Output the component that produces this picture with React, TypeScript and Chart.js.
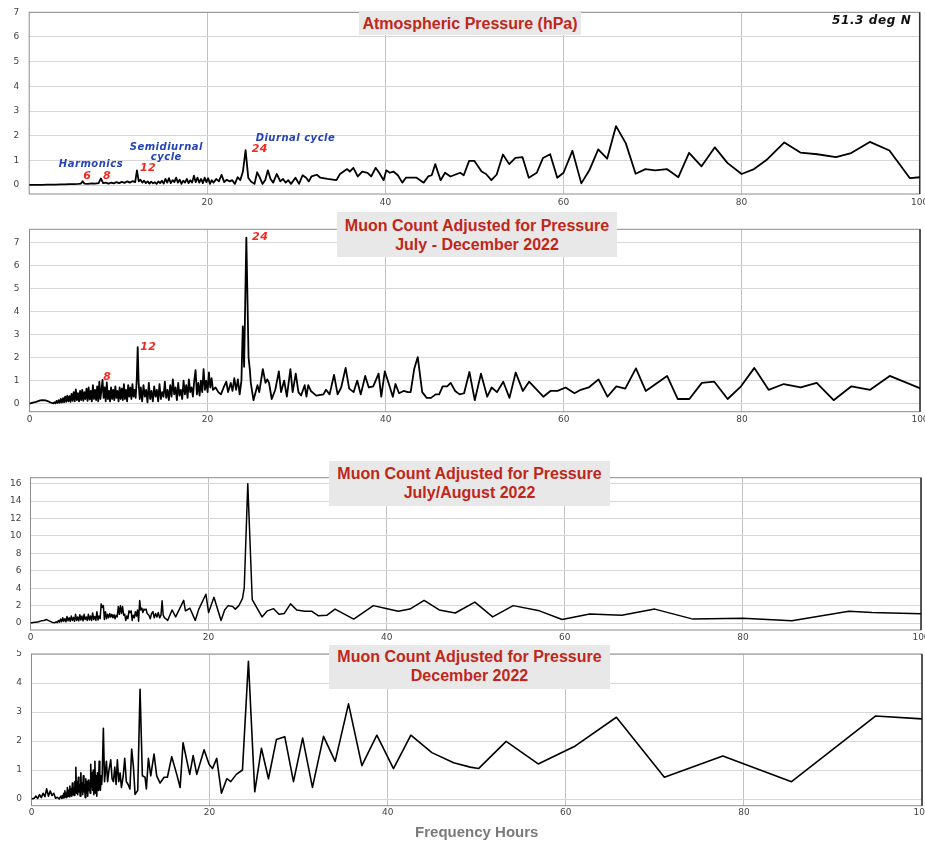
import React, { useEffect, useRef } from 'react';
import { Chart, registerables } from 'chart.js';
Chart.register(...registerables);

type Pt = [number, number];

// ---------- DATA (period in hours, amplitude) ----------
const pressureSpectrum: Pt[] = [
  [0,0.01],[0.5,0.01],[1,0.01],[1.5,0.01],[2,0.02],[2.5,0.02],[3,0.02],[3.5,0.03],[4,0.03],[4.5,0.04],[5,0.04],[5.5,0.05],[5.8,0.06],[6,0.16],[6.2,0.06],[6.6,0.05],[7,0.07],[7.4,0.06],[7.8,0.08],[8.05,0.27],[8.3,0.08],[8.6,0.1],[8.9,0.06],[9.2,0.1],[9.5,0.07],[9.8,0.12],[10.1,0.08],[10.4,0.13],[10.7,0.09],[11,0.15],[11.3,0.1],[11.6,0.16],[11.9,0.12],[12.1,0.6],[12.3,0.15],[12.5,0.22],[12.7,0.1],[12.9,0.18],[13.1,0.08],[13.3,0.15],[13.5,0.06],[13.7,0.14],[13.9,0.07],[14.1,0.12],[14.3,0.05],[14.5,0.15],[14.7,0.08],[14.9,0.18],[15.1,0.06],[15.3,0.25],[15.5,0.1],[15.7,0.28],[15.9,0.08],[16.1,0.2],[16.3,0.12],[16.5,0.3],[16.7,0.1],[16.9,0.22],[17.1,0.05],[17.3,0.18],[17.5,0.1],[17.7,0.25],[17.9,0.08],[18.1,0.2],[18.3,0.1],[18.5,0.38],[18.7,0.12],[18.9,0.3],[19.1,0.1],[19.3,0.25],[19.5,0.08],[19.7,0.3],[19.9,0.12],[20.1,0.28],[20.3,0.05],[20.5,0.2],[20.7,0.1],[21,0.25],[21.3,0.15],[21.6,0.42],[21.9,0.12],[22.2,0.22],[22.5,0.15],[22.8,0.2],[23.1,0.05],[23.4,0.32],[23.7,0.2],[24,0.55],[24.3,1.42],[24.6,0.3],[24.9,0.15],[25.3,0.05],[25.6,0.52],[25.9,0.3],[26.2,0.05],[26.5,0.2],[26.8,0.6],[27.1,0.25],[27.4,0.1],[27.8,0.45],[28.2,0.15],[28.5,0.25],[28.8,0.1],[29.1,0.2],[29.4,0.05],[29.9,0.3],[30.3,0.05],[30.7,0.4],[31.1,0.3],[31.4,0.15],[31.7,0.35],[32.3,0.42],[32.7,0.3],[33.5,0.25],[34.5,0.2],[34.9,0.45],[35.7,0.65],[36.0,0.55],[36.4,0.7],[36.9,0.35],[37.4,0.55],[38.0,0.5],[38.4,0.35],[38.9,0.7],[39.3,0.5],[39.8,0.2],[40.1,0.6],[40.5,0.5],[40.9,0.55],[41.4,0.4],[41.9,0.1],[42.3,0.3],[42.9,0.3],[43.5,0.3],[44.3,0.1],[44.8,0.35],[45.2,0.4],[45.6,0.85],[46.2,0.2],[46.7,0.5],[47.3,0.35],[48.4,0.5],[48.8,0.4],[49.4,0.98],[50.0,0.98],[50.8,0.55],[51.3,0.45],[51.9,0.2],[52.5,0.43],[53.2,1.24],[53.9,0.85],[54.6,1.1],[55.4,1.13],[56.1,0.3],[57.0,0.5],[57.7,1.1],[58.5,1.25],[59.3,0.3],[60.0,0.5],[61.0,1.39],[62.0,0.07],[62.9,0.6],[63.9,1.45],[64.9,1.07],[65.9,2.39],[67.0,1.69],[68.1,0.46],[69.2,0.65],[70.3,0.6],[71.6,0.65],[72.9,0.32],[74.1,1.31],[75.5,0.76],[77.0,1.53],[78.4,0.9],[80.0,0.45],[81.4,0.65],[82.9,1.05],[84.8,1.73],[86.6,1.32],[88.5,1.25],[90.6,1.13],[92.3,1.3],[94.4,1.75],[96.6,1.4],[98.9,0.28],[100.1,0.32]
];

const julDecSpectrum: Pt[] = [
  [0,0],[0.3,0.03],[0.6,0.06],[0.9,0.1],[1.2,0.14],[1.5,0.15],[1.8,0.14],[2.1,0.1],[2.4,0.04],[2.7,0.01],
  [2.8,0.06],[2.92,0.01],[3.04,0.12],[3.16,0.03],[3.28,0.15],[3.4,0.04],[3.52,0.2],[3.64,0.05],[3.76,0.24],[3.88,0.06],[4.0,0.3],[4.12,0.08],[4.24,0.35],[4.36,0.1],[4.48,0.32],[4.6,0.08],[4.72,0.42],[4.84,0.12],[4.96,0.5],[5.08,0.1],[5.2,0.62],[5.32,0.15],[5.44,0.45],[5.56,0.1],[5.68,0.55],[5.8,0.15],[5.92,0.6],[6.04,0.12],[6.16,0.5],[6.28,0.2],[6.4,0.65],[6.52,0.12],[6.64,0.7],[6.76,0.18],[6.88,0.55],[7.0,0.1],[7.12,0.8],[7.24,0.2],[7.36,0.6],[7.48,0.15],[7.6,0.75],[7.72,0.1],[7.84,0.95],[7.96,0.2],[8.08,0.6],[8.2,1.03],[8.32,0.25],[8.44,0.7],[8.56,0.1],[8.68,0.92],[8.8,0.2],[8.92,0.55],[9.04,0.1],[9.16,0.7],[9.28,0.2],[9.4,0.6],[9.52,0.15],[9.64,0.75],[9.76,0.25],[9.88,0.55],[10.0,0.1],[10.12,0.7],[10.24,0.2],[10.36,0.65],[10.48,0.15],[10.6,0.85],[10.72,0.2],[10.84,0.6],[10.96,0.1],[11.08,0.8],[11.2,0.3],[11.32,0.7],[11.44,0.2],[11.56,0.85],[11.68,0.3],[11.8,0.6],[11.92,0.25],[12.04,1.0],[12.15,2.45],[12.26,0.9],[12.38,0.2],[12.5,0.7],
  [12.65,0.1],[12.8,0.8],[12.95,0.3],[13.1,0.6],[13.25,0.05],[13.4,0.9],[13.55,0.2],[13.7,0.55],[13.85,0.1],[14.0,0.75],[14.15,0.3],[14.3,0.6],[14.45,0.1],[14.6,0.85],[14.75,0.2],[14.9,0.5],[15.05,0.3],[15.2,0.95],[15.35,0.25],[15.5,0.6],[15.65,0.15],[15.8,0.8],[15.95,0.3],[16.1,1.05],[16.25,0.4],[16.4,0.7],[16.55,0.15],[16.7,0.9],[16.85,0.35],[17.0,0.6],[17.15,0.2],[17.3,1.0],[17.45,0.4],[17.6,0.8],[17.75,0.25],[17.9,1.05],[18.05,0.5],[18.2,0.7],[18.35,0.3],[18.5,1.0],[18.65,1.45],[18.8,0.4],[18.95,0.9],[19.1,0.35],[19.25,1.0],[19.4,0.5],[19.55,1.5],[19.7,0.6],[19.85,1.0],[20.0,0.5],[20.15,1.35],[20.3,0.7],[20.45,1.1],
  [20.6,0.6],[20.9,0.7],[21.2,0.5],[21.5,0.4],[21.8,0.7],[22.1,0.95],[22.3,0.5],[22.6,0.9],[22.8,0.55],[23.0,1.1],[23.2,0.6],[23.4,1.05],[23.6,0.4],[23.8,1.0],[23.95,3.35],[24.1,1.6],[24.35,7.2],[24.6,2.0],[24.75,1.45],[24.85,0.9],[25.15,0.15],[25.6,0.8],[25.8,0.5],[26.2,1.5],[26.5,0.9],[26.7,1.05],[26.9,0.9],[27.2,0.2],[27.6,0.6],[28.0,1.4],[28.25,0.5],[28.6,1.0],[28.9,0.3],[29.3,1.5],[29.55,0.5],[29.9,1.3],[30.2,0.5],[30.5,0.35],[30.9,0.8],[31.1,0.3],[31.3,0.8],[31.6,0.55],[32.2,0.35],[33.0,0.4],[33.3,0.6],[33.7,0.4],[34.2,1.25],[34.6,0.4],[35.0,0.7],[35.5,1.55],[35.9,0.65],[36.4,0.5],[36.8,1.0],[37.2,0.4],[37.7,1.2],[38.1,0.7],[38.6,0.75],[39.2,1.3],[39.5,0.3],[39.9,1.4],[40.4,0.8],[40.8,0.3],[41.1,0.85],[41.5,0.45],[42.0,0.55],[42.5,0.5],[42.8,0.5],[43.2,1.5],[43.6,2.02],[44.1,0.5],[44.6,0.25],[45.1,0.25],[45.6,0.4],[46.0,0.4],[46.4,0.75],[46.9,0.75],[47.3,0.9],[47.8,0.55],[48.3,0.4],[48.8,0.45],[49.4,1.37],[50.0,0.15],[50.7,1.3],[51.4,0.3],[51.9,0.7],[52.5,0.5],[53.2,0.95],[53.9,0.25],[54.6,1.35],[55.4,0.55],[56.1,0.95],[57.7,0.3],[58.5,0.55],[59.3,0.55],[60.2,0.7],[61.2,0.45],[61.9,0.6],[62.8,0.7],[63.9,1.05],[64.9,0.3],[65.9,0.75],[66.9,0.65],[68.1,1.53],[69.2,0.55],[71.6,1.2],[72.8,0.2],[74.1,0.2],[75.5,0.9],[76.9,0.95],[78.4,0.2],[79.9,0.75],[81.4,1.55],[83.0,0.6],[84.7,0.85],[86.6,0.7],[88.4,0.9],[90.3,0.15],[92.3,0.75],[94.4,0.6],[96.6,1.2],[100.1,0.65]
];

const julAugSpectrum: Pt[] = [
  [0,0],[0.3,0.05],[0.6,0.1],[0.9,0.15],[1.2,0.25],[1.5,0.3],[1.8,0.4],[2.1,0.25],[2.4,0.1],[2.7,0.02],
  [2.9,0.15],[3.02,0.05],[3.14,0.3],[3.26,0.1],[3.38,0.45],[3.5,0.15],[3.62,0.6],[3.74,0.2],[3.86,0.5],[3.98,0.15],[4.1,0.75],[4.22,0.25],[4.34,0.6],[4.46,0.2],[4.58,0.8],[4.7,0.3],[4.82,0.65],[4.94,0.2],[5.06,1.0],[5.18,0.3],[5.3,0.7],[5.42,0.25],[5.54,0.95],[5.66,0.35],[5.78,0.8],[5.9,0.25],[6.02,1.0],[6.14,0.4],[6.26,0.7],[6.38,0.3],[6.5,1.0],[6.62,0.35],[6.74,0.8],[6.86,0.3],[6.98,1.15],[7.1,0.4],[7.22,0.75],[7.34,0.3],[7.46,1.3],[7.58,0.35],[7.7,0.8],[7.82,0.5],[7.94,2.2],[8.06,1.8],[8.18,2.0],[8.3,0.4],[8.42,1.3],[8.54,0.5],[8.66,1.0],[8.78,0.6],[8.9,1.1],[9.02,0.7],[9.14,1.0],[9.26,0.6],[9.38,0.95],[9.5,0.5],[9.62,0.9],[9.74,0.7],[9.86,1.9],[9.98,1.0],[10.1,2.0],[10.22,1.1],[10.34,1.9],[10.46,0.9],[10.58,1.0],[10.7,0.3],[10.82,0.8],[10.94,0.5],[11.06,1.4],[11.18,1.2],[11.3,1.4],[11.42,0.3],[11.54,0.9],[11.66,0.6],[11.78,1.3],[11.9,0.8],[12.02,1.5],[12.14,0.2],[12.26,2.6],[12.38,1.5],[12.5,1.7],[12.62,1.2],[12.74,1.6],[12.86,1.5],[12.98,1.6],[13.1,1.1],[13.3,0.9],[13.45,0.5],[13.6,1.1],[13.75,1.3],[13.9,0.6],[14.05,1.1],[14.2,0.7],[14.35,1.2],[14.5,0.6],[14.65,0.9],[14.78,2.55],[14.9,0.9],[15.05,0.6],[15.2,0.5],[15.4,0.3],
  [15.9,1.5],[16.3,0.7],[17.2,2.6],[17.4,1.4],[17.9,1.7],[18.5,0.3],[18.9,1.6],[19.7,3.3],[20.0,1.2],[20.6,2.95],[21.4,0.3],[21.8,1.5],[22.2,2.0],[22.7,1.9],[23.0,1.6],[23.4,2.0],[23.8,2.8],[24.0,4.0],[24.4,16.0],[24.9,2.7],[26.0,0.7],[26.6,1.4],[27.3,1.65],[27.9,1.0],[28.5,1.1],[29.2,2.2],[29.9,1.5],[30.8,1.35],[31.6,1.35],[32.3,0.85],[33.3,0.9],[34.2,1.6],[36.3,0.45],[38.5,2.0],[39.8,1.7],[41.3,1.35],[42.6,1.6],[44.2,2.6],[45.9,1.5],[47.7,1.15],[49.9,2.4],[51.9,0.7],[54.2,2.0],[57.0,1.45],[59.7,0.4],[62.8,1.05],[66.4,0.9],[70.1,1.6],[74.4,0.45],[80.0,0.55],[85.5,0.25],[91.9,1.35],[94.5,1.2],[100.1,1.05]
];

const decSpectrum: Pt[] = [
  [0,0],[0.3,0.03],[0.5,0.1],[0.7,0.02],[0.9,0.15],[1.1,0.05],[1.3,0.2],[1.5,0.08],[1.7,0.35],[1.9,0.1],[2.1,0.28],[2.3,0.12],[2.5,0.2],[2.7,0.03],[2.9,0.06],[3.1,0.0],[3.3,0.1],
  [3.40,0.02],[3.47,0.12],[3.54,0.04],[3.61,0.2],[3.68,0.05],[3.75,0.28],[3.82,0.08],[3.89,0.2],[3.96,0.05],[4.03,0.4],[4.10,0.1],[4.17,0.3],[4.24,0.08],[4.31,0.45],[4.38,0.12],[4.45,0.35],[4.52,0.1],[4.59,0.55],[4.66,0.15],[4.73,0.4],[4.80,0.12],[4.87,0.6],[4.94,0.3],[4.98,1.09],[5.05,0.2],[5.12,0.6],[5.19,0.15],[5.26,0.75],[5.33,0.25],[5.40,0.5],[5.47,0.1],[5.54,0.9],[5.61,0.3],[5.68,0.55],[5.75,0.15],[5.82,0.8],[5.89,0.25],[5.96,0.5],[6.03,0.05],[6.10,0.7],[6.17,0.2],[6.24,0.6],[6.31,0.1],[6.38,0.65],[6.45,0.3],[6.52,0.55],[6.59,0.2],[6.65,1.2],[6.72,0.4],[6.79,0.9],[6.86,0.3],[6.93,1.0],[7.00,0.15],[7.07,0.6],[7.12,1.3],[7.19,0.2],[7.26,0.8],[7.33,0.1],[7.40,0.9],[7.47,0.3],[7.54,0.6],[7.60,1.3],[7.67,0.6],[7.74,0.3],[7.81,0.8],[7.88,0.5],[7.95,0.9],
  [8.07,2.44],[8.2,0.6],[8.41,1.3],[8.55,0.6],[8.7,1.0],[8.9,1.35],[9.05,0.7],[9.2,0.6],[9.35,1.1],[9.5,0.5],[9.64,1.35],[9.8,0.6],[9.95,0.9],[10.1,0.4],[10.3,0.8],[10.47,1.4],[10.65,0.6],[10.85,0.5],[11.05,0.35],[11.25,1.72],[11.45,1.1],[11.63,0.16],[11.93,0.3],[12.19,3.78],[12.45,0.8],[12.75,0.75],[12.9,0.35],[13.13,1.4],[13.39,0.8],[13.76,1.55],[14.06,0.8],[14.44,0.55],[14.89,0.75],[15.26,0.75],[15.75,1.46],[16.31,0.85],[16.69,0.4],[17.02,1.94],[17.77,0.85],[18.15,1.5],[18.56,0.85],[19.38,1.7],[19.94,1.2],[20.32,1.05],[20.8,1.4],[21.33,0.2],[21.93,0.7],[22.38,0.6],[23.0,0.85],[23.69,1.0],[24.36,4.75],[25.07,0.25],[25.82,1.75],[26.61,0.7],[27.5,2.05],[28.44,2.15],[29.42,0.6],[30.45,2.1],[31.55,0.4],[32.79,2.16],[34.1,1.3],[35.6,3.28],[37.1,1.15],[38.78,2.2],[40.65,1.05],[42.6,2.2],[44.96,1.6],[47.4,1.25],[49.27,1.1],[50.2,1.05],[53.3,1.99],[56.9,1.21],[61.07,1.83],[65.68,2.82],[71.07,0.75],[77.63,1.48],[85.35,0.6],[94.77,2.86],[100.2,2.76]
];

const xTicksTop = [20, 40, 60, 80, 100];
const xTicksAll = [0, 20, 40, 60, 80, 100];
const yTicksPressure = [0, 1, 2, 3, 4, 5, 6, 7];
const yTicksJulDec = [0, 1, 2, 3, 4, 5, 6, 7];
const yTicksJulAug = [0, 2, 4, 6, 8, 10, 12, 14, 16];
const yTicksDec = [0, 1, 2, 3, 4, 5];

const titlePressure = ['Atmospheric Pressure (hPa)'];
const titleJulDec = ['Muon Count Adjusted for Pressure', 'July - December 2022'];
const titleJulAug = ['Muon Count Adjusted for Pressure', 'July/August 2022'];
const titleDec = ['Muon Count Adjusted for Pressure', 'December 2022'];
const latitudeLabel = '51.3 deg N';
const xAxisTitle = 'Frequency Hours';

type Anno = { x: number; y: number; text: string; kind: 'blue' | 'red' };
const pressureNotes: Anno[] = [
  { x: 6.94, y: 0.85, text: 'Harmonics', kind: 'blue' },
  { x: 6.53, y: 0.36, text: '6', kind: 'red' },
  { x: 8.74, y: 0.36, text: '8', kind: 'red' },
  { x: 15.4, y: 1.51, text: 'Semidiurnal', kind: 'blue' },
  { x: 15.4, y: 1.13, text: 'cycle', kind: 'blue' },
  { x: 13.35, y: 0.7, text: '12', kind: 'red' },
  { x: 29.9, y: 1.91, text: 'Diurnal cycle', kind: 'blue' },
  { x: 25.9, y: 1.44, text: '24', kind: 'red' },
];
const julDecNotes: Anno[] = [
  { x: 25.9, y: 7.2, text: '24', kind: 'red' },
  { x: 13.34, y: 2.43, text: '12', kind: 'red' },
  { x: 8.74, y: 1.17, text: '8', kind: 'red' },
];

// ---------- LAYOUT ----------
type Panel = {
  data: Pt[]; top: number; height: number; left: number; right: number; padTop: number; xAxisH: number;
  yMin: number; yMax: number; yTicks: number[]; xTicks: number[]; lw: number; notes: Anno[];
  xPad: number; yPad: number; xTitle?: string;
};

const W = 925;
const panels: Panel[] = [
  { data: pressureSpectrum, top: 0, height: 215, left: 29.2, right: 919.7, padTop: 12.3, xAxisH: 21, yMin: -0.36, yMax: 7, yTicks: yTicksPressure, xTicks: xTicksTop, lw: 1.8, notes: pressureNotes, xPad: 3, yPad: 10 },
  { data: julDecSpectrum, top: 215, height: 220, left: 29.5, right: 920, padTop: 14.3, xAxisH: 23.3, yMin: -0.35, yMax: 7.56, yTicks: yTicksJulDec, xTicks: xTicksAll, lw: 1.8, notes: julDecNotes, xPad: 3, yPad: 10 },
  { data: julAugSpectrum, top: 435, height: 215, left: 30.5, right: 921, padTop: 42.7, xAxisH: 20, yMin: -0.8, yMax: 16.69, yTicks: yTicksJulAug, xTicks: xTicksAll, lw: 1.5, notes: [], xPad: 2, yPad: 9 },
  { data: decSpectrum, top: 650, height: 192, left: 31.5, right: 922, padTop: 4, xAxisH: 36.3, yMin: -0.23, yMax: 5, yTicks: yTicksDec, xTicks: xTicksAll, lw: 1.6, notes: [], xPad: 2, yPad: 9.5, xTitle: xAxisTitle },
];

const titleBoxes = [
  { lines: titlePressure, left: 359, top: 11, width: 222, height: 24, padTop: 2.5 },
  { lines: titleJulDec, left: 337, top: 212, width: 280, height: 45, padTop: 3.5 },
  { lines: titleJulAug, left: 329, top: 461, width: 281, height: 45, padTop: 2.8 },
  { lines: titleDec, left: 329, top: 645, width: 281, height: 44, padTop: 2.2 },
];

const tickFont = { family: '"DejaVu Sans", sans-serif', size: 9 };

function makePlugins(notes: Anno[]) {
  return [
    {
      id: 'frameBox',
      beforeDatasetsDraw(chart: any) {
        const { ctx, chartArea: a } = chart;
        ctx.save();
        ctx.strokeStyle = '#8c8c8c';
        ctx.lineWidth = 1;
        ctx.strokeRect(a.left, a.top, a.right - a.left, a.bottom - a.top);
        ctx.strokeStyle = '#333';
        ctx.lineWidth = 1.5;
        ctx.beginPath();
        ctx.moveTo(a.right, a.top);
        ctx.lineTo(a.right, a.bottom);
        ctx.stroke();
        ctx.restore();
      },
    },
    {
      id: 'notes',
      afterDatasetsDraw(chart: any) {
        const { ctx } = chart;
        const xs = chart.scales.x, ys = chart.scales.y;
        ctx.save();
        ctx.textAlign = 'center';
        ctx.textBaseline = 'middle';
        for (const n of notes) {
          if (n.kind === 'blue') {
            ctx.font = 'italic bold 10px "DejaVu Sans", sans-serif';
            ctx.fillStyle = '#2444b8';
          } else {
            ctx.font = 'italic bold 11px "DejaVu Sans", sans-serif';
            ctx.fillStyle = '#f5281e';
          }
          (ctx as any).letterSpacing = '0.5px';
          ctx.fillText(n.text, xs.getPixelForValue(n.x), ys.getPixelForValue(n.y));
        }
        ctx.restore();
      },
    },
  ];
}

function PanelChart({ p }: { p: Panel }) {
  const ref = useRef<HTMLCanvasElement>(null);
  useEffect(() => {
    if (!ref.current) return;
    const chart = new Chart(ref.current, {
      type: 'line',
      data: {
        datasets: [{
          data: p.data.map(([x, y]) => ({ x, y })),
          borderColor: '#000',
          borderWidth: p.lw,
          pointRadius: 0,
          tension: 0,
          fill: false,
          borderJoinStyle: 'round',
        }],
      },
      options: {
        animation: false,
        responsive: false,
        devicePixelRatio: 1,
        events: [],
        layout: { padding: { left: 0, right: W - p.right, top: p.padTop, bottom: 0 } },
        plugins: { legend: { display: false }, tooltip: { enabled: false }, title: { display: false } },
        scales: {
          x: {
            type: 'linear',
            min: 0,
            max: 100,
            afterBuildTicks: (s: any) => { s.ticks = p.xTicks.map((v) => ({ value: v })); },
            afterFit: (s: any) => { s.height = p.xAxisH; s.paddingLeft = 0; s.paddingRight = 0; },
            grid: { color: '#c2c2c2', lineWidth: 1, drawTicks: false },
            border: { display: false },
            ticks: { padding: p.xPad, color: '#444', font: tickFont, maxRotation: 0, autoSkip: false },
            title: p.xTitle
              ? { display: true, text: p.xTitle, color: '#7a7a7a', font: { family: '"Liberation Sans", Arial, sans-serif', size: 15, weight: 'bold' }, padding: 0 }
              : { display: false },
          },
          y: {
            type: 'linear',
            min: p.yMin,
            max: p.yMax,
            afterBuildTicks: (s: any) => { s.ticks = p.yTicks.map((v) => ({ value: v })); },
            afterFit: (s: any) => { s.width = p.left; s.paddingTop = 0; s.paddingBottom = 0; },
            grid: { color: '#d6d6d6', lineWidth: 1, drawTicks: false },
            border: { display: false },
            ticks: { padding: p.yPad, color: '#444', font: tickFont, autoSkip: false },
          },
        },
      } as any,
      plugins: makePlugins(p.notes) as any,
    });
    return () => chart.destroy();
  }, [p]);
  return (
    <canvas
      ref={ref}
      width={W}
      height={p.height}
      style={{ position: 'absolute', left: 0, top: p.top, width: W, height: p.height }}
    />
  );
}

export default function App() {
  return (
    <div style={{ position: 'absolute', left: 0, top: 0, width: W, height: 842, background: '#fff', overflow: 'hidden' }}>
      {panels.map((p, i) => <PanelChart key={i} p={p} />)}
      {titleBoxes.map((b, i) => (
        <div
          key={'t' + i}
          style={{
            position: 'absolute', left: b.left, top: b.top, width: b.width, height: b.height,
            boxSizing: 'border-box', paddingTop: b.padTop, background: '#e8e8e8', color: '#c0271a',
            font: 'bold 16px "Liberation Sans", Arial, sans-serif', lineHeight: '19px', textAlign: 'center',
            whiteSpace: 'nowrap',
          }}
        >
          {b.lines.map((l, j) => <div key={j}>{l}</div>)}
        </div>
      ))}
      <div
        style={{
          position: 'absolute', left: 832, top: 13, font: 'italic bold 12px "DejaVu Sans", sans-serif',
          letterSpacing: '0.6px', lineHeight: '15px', color: '#111', whiteSpace: 'nowrap',
        }}
      >
        {latitudeLabel}
      </div>
    </div>
  );
}
